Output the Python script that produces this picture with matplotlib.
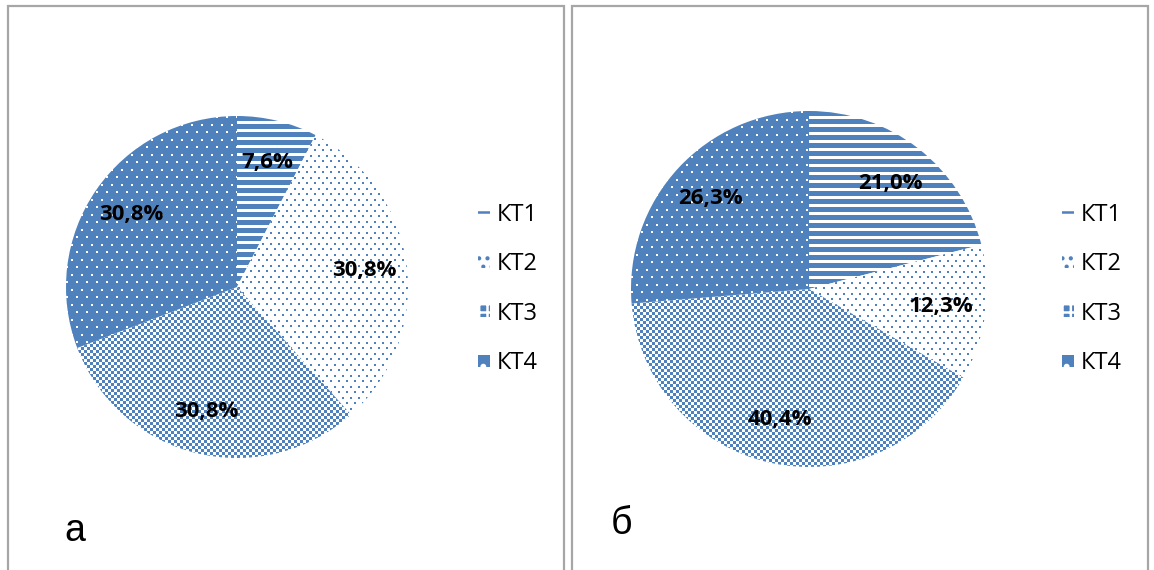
import numpy as np
import matplotlib.pyplot as plt
from matplotlib.patches import Rectangle, Patch

# data
categories = ['КТ1', 'КТ2', 'КТ3', 'КТ4']
share_a = [7.6, 30.8, 30.8, 30.8]
share_b = [21.0, 12.3, 40.4, 26.3]
panel_letters = ['а', 'б']

BLUE = '#4F81BD'
W, H = 1154, 570
plt.rcParams['font.family'] = ['Open Sans', 'DejaVu Sans']
plt.rcParams['hatch.linewidth'] = 1.8

fig = plt.figure(figsize=(W / 100, H / 100), dpi=100)


def fig_box(x0, y0, x1, y1):
    # pixel box (top-left origin) -> figure fraction rect
    return [x0 / W, 1 - y1 / H, (x1 - x0) / W, (y1 - y0) / H]


def texture(kind, n):
    yy, xx = np.mgrid[0:n, 0:n]
    if kind == 'stripes':
        mask = (yy % 8) < 5
    elif kind == 'dots':
        mask = (((yy % 11) < 2) & ((xx % 8) < 2)) | ((((yy + 5) % 11) < 2) & (((xx + 4) % 8) < 2))
    elif kind == 'checker':
        mask = ((xx // 3 + yy // 3) % 2) == 0
    else:  # blue with white dots
        mask = ~((((yy % 15) < 2) & ((xx % 10) < 2)) |
                 ((((yy + 7) % 15) < 2) & (((xx + 5) % 10) < 2)))
    img = np.ones((n, n, 3))
    img[mask] = np.array([79, 129, 189]) / 255
    return img


kinds = ['stripes', 'dots', 'checker', 'holes']
legend_handles = [
    Patch(facecolor='white', edgecolor=BLUE, lw=0, hatch='--'),
    Patch(facecolor='white', edgecolor=BLUE, lw=0, hatch='..'),
    Patch(facecolor=BLUE, edgecolor='white', lw=0, hatch='++'),
    Patch(facecolor=BLUE, edgecolor='white', lw=0, hatch='.'),
]


def pct(p):
    return f'{p:.1f}%'.replace('.', ',')


panels = [
    dict(vals=share_a, border=(8, 6, 564, 600), pie=(66, 116, 408, 458),
         leg=(478, 289), letter=(64, 531)),
    dict(vals=share_b, border=(572, 6, 1148, 600), pie=(631, 111, 987, 467),
         leg=(1062, 289), letter=(611, 524)),
]

for panel, letter in zip(panels, panel_letters):
    bx0, by0, bx1, by1 = panel['border']
    fig.patches.append(Rectangle((bx0 / W, 1 - by1 / H), (bx1 - bx0) / W, (by1 - by0) / H,
                                 transform=fig.transFigure, fill=False,
                                 edgecolor='#a6a6a6', lw=1.6))

    x0, y0, x1, y1 = panel['pie']
    ax = fig.add_axes(fig_box(x0, y0, x1, y1))
    wedges, _, autotexts = ax.pie(panel['vals'], startangle=90, counterclock=False,
                                  autopct=pct, pctdistance=0.75,
                                  wedgeprops=dict(facecolor='none', edgecolor='none'),
                                  textprops=dict(fontsize=16, fontweight='bold', color='black'))
    n = int(round(x1 - x0))
    for w, k in zip(wedges, kinds):
        im = ax.imshow(texture(k, n), extent=(-1, 1, -1, 1), interpolation='nearest', zorder=0)
        im.set_clip_path(w)
    for t in autotexts:
        t.set_zorder(5)
    ax.set_xlim(-1, 1)
    ax.set_ylim(-1, 1)
    ax.set_aspect('equal')
    ax.axis('off')

    lx, ly = panel['leg']
    fig.legend(legend_handles, categories, loc='center left',
               bbox_to_anchor=(lx / W, 1 - ly / H), bbox_transform=fig.transFigure,
               frameon=False, fontsize=17, labelspacing=1.08, handlelength=0.5,
               handleheight=0.4, handletextpad=0.3, borderpad=0, borderaxespad=0)

    tx, ty = panel['letter']
    fig.text(tx / W, 1 - ty / H, letter, fontsize=27, family='Liberation Sans',
             ha='left', va='center')

fig.savefig('out.png', dpi=100, facecolor='white')
